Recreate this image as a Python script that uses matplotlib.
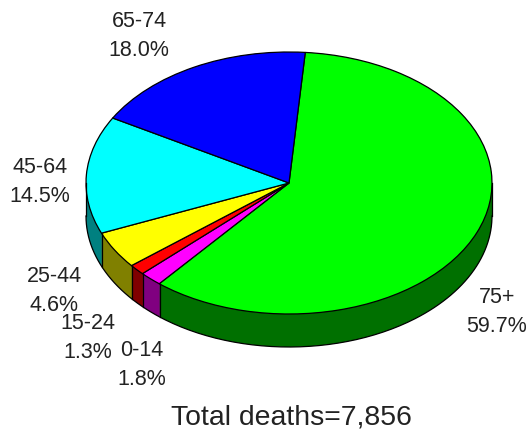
import numpy as np
import matplotlib
matplotlib.use('Agg')
import matplotlib.pyplot as plt

labels = ['75+', '0-14', '15-24', '25-44', '45-64', '65-74']
shares = [59.7, 1.8, 1.3, 4.6, 14.5, 18.0]
top_colors = ['#00ff00', '#ff00ff', '#ff0000', '#ffff00', '#00ffff', '#0000ff']
side_colors = ['#007000', '#800080', '#800000', '#808000', '#008080', '#000080']
total_text = 'Total deaths=7,856'

W, H = 529, 432
START = 85.4
CX, CY = 289, 183
RX, RY = 203, 131
DEPTH = 33

plt.rcParams['font.family'] = ['Liberation Sans', 'DejaVu Sans']
fig = plt.figure(figsize=(W / 100, H / 100), dpi=100)
ax = fig.add_axes([0, 0, 1, 1])


def draw_pie(dy, colors, edge, lw):
    # pie is a unit circle, so scale it through a transform to get the ellipse
    wedges, _ = ax.pie(shares, colors=colors, startangle=START, counterclock=False,
                       radius=1, center=(0, 0), frame=False,
                       wedgeprops={'edgecolor': edge, 'linewidth': lw})
    tr = (matplotlib.transforms.Affine2D().scale(RX, -RY).translate(CX, CY + dy)
          + ax.transData)
    for w in wedges:
        w.set_transform(tr)


# side of the pie: stacked copies, lowest first
for dy in range(DEPTH, 0, -1):
    draw_pie(dy, side_colors, 'none', 0)

# outline of the side
angles = np.radians(START - np.cumsum([0] + shares) * 3.6)
t = np.linspace(np.pi, 2 * np.pi, 200)
ax.plot(CX + RX * np.cos(t), CY + DEPTH - RY * np.sin(t), color='black', lw=0.9)
ax.plot([CX - RX, CX - RX], [CY, CY + DEPTH], color='black', lw=0.9)
ax.plot([CX + RX, CX + RX], [CY, CY + DEPTH], color='black', lw=0.9)
for a in angles:
    if np.sin(a) < 0:
        x = CX + RX * np.cos(a)
        y = CY - RY * np.sin(a)
        ax.plot([x, x], [y, y + DEPTH], color='black', lw=0.9)

draw_pie(0, top_colors, 'black', 0.9)

ax.set_aspect('auto')
ax.set_xlim(0, W)
ax.set_ylim(H, 0)
ax.axis('off')

label_pos = [(497, 312), (142, 365), (88, 338), (54, 291), (40, 182), (139, 36)]
for name, share, (x, y) in zip(labels, shares, label_pos):
    ax.text(x, y, f'{name}\n{share:.1f}%', ha='center', va='center', fontsize=15.5,
            color='#222222', linespacing=1.45)
ax.text(291, 418, total_text, ha='center', va='center', fontsize=20.4, color='#222222')

fig.savefig('out.png', dpi=100)
